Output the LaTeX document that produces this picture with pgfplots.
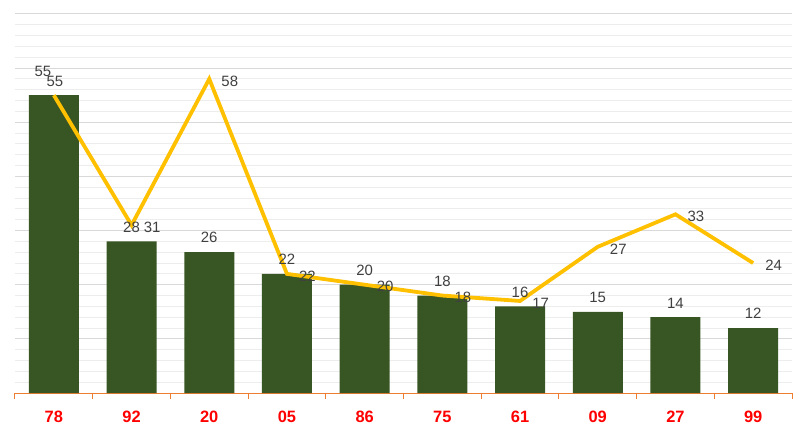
\documentclass[border=0pt]{standalone}
\usepackage{pgfplots}
\pgfplotsset{compat=1.18}
\usepackage{fontspec}
\setmainfont{Liberation Sans}
\definecolor{barc}{HTML}{375623}
\definecolor{linec}{HTML}{FFC000}
\definecolor{axo}{HTML}{ED7D31}
\definecolor{lab}{HTML}{404040}
\definecolor{majg}{HTML}{D9D9D9}
\definecolor{ming}{HTML}{EDEDED}
\tikzset{dl/.style={font=\fontsize{15}{15}\selectfont, text=lab, inner sep=0pt}}
\begin{document}
\begin{tikzpicture}
\useasboundingbox (-15bp,-45bp) rectangle (792bp,393bp);
\begin{axis}[
  at={(0,0)}, anchor=south west,
  scale only axis, width=777bp, height=379bp,
  xmin=-0.5, xmax=9.5, ymin=0, ymax=70,
  /pgf/number format/assume math mode=true,
  axis x line*=bottom,
  x axis line style={draw=axo, line width=1bp, -},
  y axis line style={draw=none},
  xtick={0,...,9},
  xticklabels={78,92,20,05,86,75,61,09,27,99},
  minor xtick={-0.5,0.5,...,9.5},
  major x tick style={draw=none},
  minor x tick style={draw=axo, line width=1bp},
  ytick style={draw=none},
  minor y tick style={draw=none},
  minor tick length=6bp, major tick length=0pt, tick align=outside,
  xticklabel style={font=\fontsize{16.5}{16.5}\selectfont\bfseries, text=red, anchor=north, inner sep=0pt, yshift=-18bp},
  ytick={0,10,...,70}, minor y tick num=4,
  ymajorgrids, yminorgrids,
  major grid style={draw=majg, line width=1bp},
  minor grid style={draw=ming, line width=1bp},
  yticklabels={},
  clip=false,
]
\addplot[ybar, bar width=50bp, fill=barc, draw=none] coordinates {(0,55)(1,28)(2,26)(3,22)(4,20)(5,18)(6,16)(7,15)(8,14)(9,12)};
\addplot[draw=none, mark=none, nodes near coords, nodes near coords style={dl, anchor=south, yshift=9bp}] coordinates {(1,28)(2,26)(3,22)(4,20)(5,18)(6,16)(7,15)(8,14)(9,12)};
\addplot[draw=none, mark=none, nodes near coords, nodes near coords style={dl, anchor=south, xshift=-11bp, yshift=18bp}] coordinates {(0,55)};
\addplot[linec, line width=3.8bp, mark=none] coordinates {(0,55)(1,31)(2,58)(3,22)(4,20)(5,18)(6,17)(7,27)(8,33)(9,24)};
\addplot[draw=none, mark=none, nodes near coords, nodes near coords style={dl, anchor=west, xshift=12bp, yshift=-2bp}] coordinates {(1,31)(2,58)(3,22)(4,20)(5,18)(6,17)(7,27)(8,33)(9,24)};
\addplot[draw=none, mark=none, nodes near coords, nodes near coords style={dl, anchor=south, xshift=1bp, yshift=8bp}] coordinates {(0,55)};
\end{axis}
\end{tikzpicture}
\end{document}
